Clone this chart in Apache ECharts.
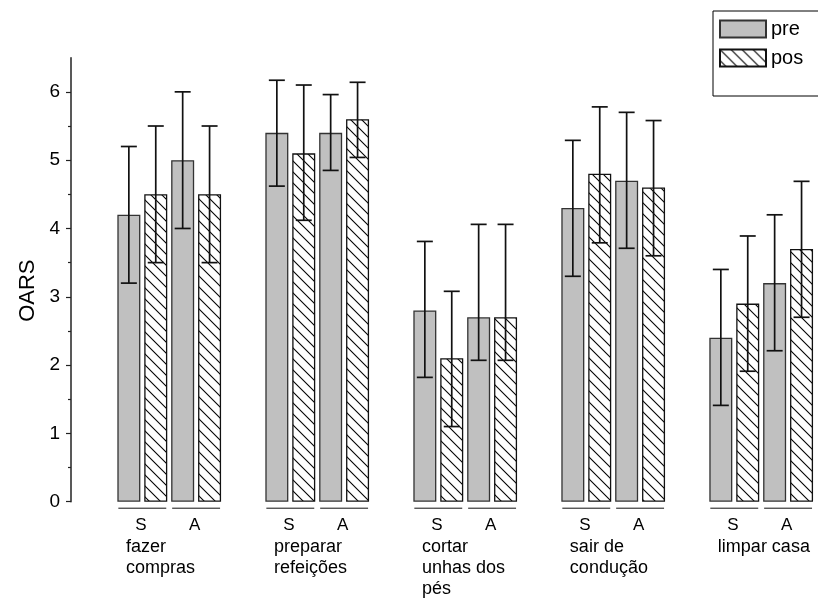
<!DOCTYPE html>
<html>
<head>
<meta charset="utf-8">
<script src="https://cdn.jsdelivr.net/npm/echarts@6/dist/echarts.min.js"></script>
<style>
  html, body { margin: 0; padding: 0; background: #fff; }
  #chart { width: 818px; height: 605px; }
</style>
</head>
<body>
<div id="chart"></div>
<script>
(function () {

    // categories
    var groups = ['fazer\ncompras', 'preparar\nrefeições', 'cortar\nunhas dos\npés', 'sair de\ncondução', 'limpar casa'];
    var subgroups = ['S', 'A'];

    // one entry per (group, subgroup): S then A for each group
    var preMean = [4.2, 5.0, 5.4, 5.4, 2.8, 2.7, 4.3, 4.7, 2.4, 3.2];
    var preLow  = [3.2, 4.0, 4.62, 4.85, 1.82, 2.07, 3.3, 3.71, 1.41, 2.21];
    var preHigh = [5.2, 6.0, 6.17, 5.96, 3.81, 4.06, 5.29, 5.7, 3.4, 4.2];

    var posMean = [4.5, 4.5, 5.1, 5.6, 2.1, 2.7, 4.8, 4.6, 2.9, 3.7];
    var posLow  = [3.5, 3.5, 4.12, 5.04, 1.1, 2.07, 3.79, 3.6, 1.91, 2.7];
    var posHigh = [5.5, 5.5, 6.1, 6.14, 3.08, 4.06, 5.78, 5.58, 3.89, 4.69];

    var yTicks = [0, 1, 2, 3, 4, 5, 6];
    var yMinorTicks = [0.5, 1.5, 2.5, 3.5, 4.5, 5.5];

    var FONT = 'Liberation Sans, Arial, sans-serif';
    var GROUP_STEP = 5.5;   // bar slots from one group to the next
    var BAR_W = 23;
    var CAP_HALF = 8;

    function barX(i, isPos) {
        var g = Math.floor(i / 2), s = i % 2;
        return g * GROUP_STEP + s * 2 + (isPos ? 1 : 0);
    }

    // hatch pattern for "pos"
    var S = 11;
    var hatch = document.createElement('canvas');
    hatch.width = S; hatch.height = S;
    var ctx = hatch.getContext('2d');
    ctx.fillStyle = '#fff';
    ctx.fillRect(0, 0, S, S);
    ctx.strokeStyle = '#000';
    ctx.lineWidth = 1.1;
    [-S, 0, S].forEach(function (k) {
        ctx.beginPath();
        ctx.moveTo(-1, -1 + k);
        ctx.lineTo(S + 1, S + 1 + k);
        ctx.stroke();
    });

    var preBars = [], posBars = [], errData = [], pairData = [];
    var pairCenters = [], pairLabels = [];
    for (var i = 0; i < preMean.length; i++) {
        preBars.push([barX(i, false), preMean[i]]);
        posBars.push([barX(i, true), posMean[i]]);
        errData.push([barX(i, false), preLow[i], preHigh[i]]);
        errData.push([barX(i, true), posLow[i], posHigh[i]]);
        pairData.push([barX(i, false), barX(i, true)]);
        pairCenters.push(barX(i, false) + 0.45);
        pairLabels.push(subgroups[i % 2]);
    }
    var groupLabelPos = groups.map(function (_, g) { return g * GROUP_STEP - 0.11; });

    function nearest(list, v) {
        var best = 0;
        for (var k = 1; k < list.length; k++) {
            if (Math.abs(list[k] - v) < Math.abs(list[best] - v)) best = k;
        }
        return best;
    }

    function renderErr(params, api) {
        var x = api.value(0);
        var lo = api.coord([x, api.value(1)]);
        var hi = api.coord([x, api.value(2)]);
        var st = { stroke: '#111', lineWidth: 1.7 };
        return {
            type: 'group',
            children: [
                { type: 'line', shape: { x1: lo[0], y1: lo[1], x2: hi[0], y2: hi[1] }, style: st },
                { type: 'line', shape: { x1: hi[0] - CAP_HALF, y1: hi[1], x2: hi[0] + CAP_HALF, y2: hi[1] }, style: st },
                { type: 'line', shape: { x1: lo[0] - CAP_HALF, y1: lo[1], x2: lo[0] + CAP_HALF, y2: lo[1] }, style: st }
            ]
        };
    }

    function renderPair(params, api) {
        var half = BAR_W / 2;
        var a = api.coord([api.value(0), 0]);
        var b = api.coord([api.value(1), 0]);
        return {
            type: 'line',
            shape: { x1: a[0] - half + 1, y1: a[1] + 6.5, x2: b[0] + half - 1, y2: b[1] + 6.5 },
            style: { stroke: '#111', lineWidth: 1 }
        };
    }

    var chart = echarts.init(document.getElementById('chart'));

    chart.setOption({
        animation: false,
        textStyle: { fontFamily: FONT },
        grid: { left: 71, right: 3, top: 57.7, bottom: 103.3 },
        legend: {
            data: ['pre', 'pos'],
            orient: 'vertical',
            left: 713, top: 11,
            padding: [8, 20, 28, 6],
            borderColor: '#000', borderWidth: 1,
            itemWidth: 46, itemHeight: 17, itemGap: 9,
            icon: 'rect',
            textStyle: { fontSize: 20, color: '#000', fontFamily: FONT }
        },
        xAxis: [{
            type: 'value', min: -2.15, max: 25.5, position: 'bottom', offset: 0,
            axisLine: { show: false, onZero: false }, axisTick: { show: false }, splitLine: { show: false },
            axisLabel: {
                customValues: pairCenters,
                formatter: function (v) { return pairLabels[nearest(pairCenters, v)]; },
                margin: 15, fontSize: 17, color: '#000', fontFamily: FONT
            }
        }, {
            type: 'value', min: -2.15, max: 25.5, position: 'bottom', offset: 0,
            axisLine: { show: false, onZero: false }, axisTick: { show: false }, splitLine: { show: false },
            axisLabel: {
                customValues: groupLabelPos,
                formatter: function (v) { return groups[nearest(groupLabelPos, v)]; },
                align: 'left', verticalAlign: 'top',
                margin: 35, fontSize: 18, lineHeight: 21, color: '#000', fontFamily: FONT
            }
        }],
        yAxis: [{
            type: 'value', min: 0, max: 6.5, interval: 1, position: 'left',
            name: 'OARS', nameLocation: 'middle', nameGap: 30,
            nameTextStyle: { fontSize: 22, color: '#000', fontFamily: FONT, padding: [0, 22, 0, 0] },
            axisLine: { show: true, onZero: false, lineStyle: { color: '#222', width: 1.5 } },
            axisTick: { show: true, length: 5, customValues: yTicks, lineStyle: { color: '#222', width: 1.2 } },
            axisLabel: { customValues: yTicks, margin: 11, fontSize: 19, color: '#000', fontFamily: FONT },
            splitLine: { show: false }
        }, {
            type: 'value', min: 0, max: 6.5, position: 'left', offset: 0,
            axisLine: { show: false, onZero: false },
            axisTick: { show: true, length: 3, customValues: yMinorTicks, lineStyle: { color: '#222', width: 1.2 } },
            axisLabel: { show: false },
            splitLine: { show: false }
        }],
        series: [
            { name: 'pre', type: 'bar', data: preBars, barWidth: BAR_W, barGap: '-100%',
              itemStyle: { color: '#c0c0c0', borderColor: '#333', borderWidth: 1.3 } },
            { name: 'pos', type: 'bar', data: posBars, barWidth: BAR_W, barGap: '-100%',
              itemStyle: { color: { image: hatch, repeat: 'repeat' }, borderColor: '#111', borderWidth: 1.3 } },
            { name: 'err', type: 'custom', data: errData, renderItem: renderErr, z: 5, clip: false },
            { name: 'pairs', type: 'custom', data: pairData, renderItem: renderPair, z: 5, clip: false }
        ]
    });

})();
</script>
</body>
</html>
